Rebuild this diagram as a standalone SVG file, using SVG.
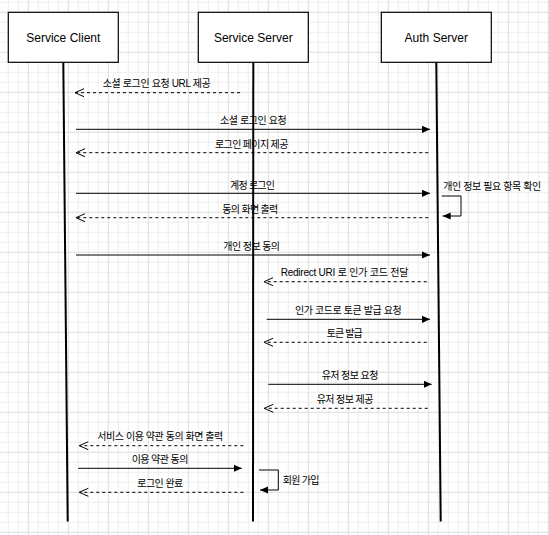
<svg xmlns="http://www.w3.org/2000/svg" width="549" height="535" viewBox="0 0 549 535">
<style>
.box{fill:#fff;stroke:#000;stroke-width:1.2}
.ntext{font-family:"Liberation Sans","Noto Sans CJK KR",Arial,sans-serif;font-size:12px;fill:#000;text-anchor:middle}
.life{stroke:#000;stroke-width:2;fill:none}
.msg{stroke:#000;stroke-width:1;fill:none;marker-end:url(#block)}
.ret{stroke:#000;stroke-width:1;fill:none;stroke-dasharray:3 3;marker-end:url(#open)}
.lbl{font-family:"Liberation Sans","Noto Sans CJK KR",sans-serif;font-size:10px;fill:#000;text-anchor:middle}
.lbl.start{text-anchor:start}
</style>
<defs>
<pattern id="grid" patternUnits="userSpaceOnUse" x="7.8" y="11.8" width="40" height="40">
<rect x="0" y="0" width="40" height="40" fill="#fff"/>
<rect x="0" y="0" width="1" height="40" fill="#ededed"/>
<rect x="10" y="0" width="1" height="40" fill="#ededed"/>
<rect x="30" y="0" width="1" height="40" fill="#ededed"/>
<rect x="0" y="10" width="40" height="1" fill="#ededed"/>
<rect x="0" y="20" width="40" height="1" fill="#ededed"/>
<rect x="0" y="30" width="40" height="1" fill="#ededed"/>
<rect x="20" y="0" width="1" height="40" fill="#dcdcdc"/>
<rect x="0" y="0" width="40" height="1" fill="#dcdcdc"/>
</pattern>
<marker id="block" markerUnits="userSpaceOnUse" markerWidth="10" markerHeight="10" refX="8" refY="4" orient="auto">
<path d="M0,0.4 L8,4 L0,7.6 z" fill="#000" stroke="none"/>
</marker>
<marker id="open" markerUnits="userSpaceOnUse" markerWidth="12" markerHeight="10" refX="9.5" refY="4.5" orient="auto">
<path d="M0.5,0.5 L9.5,4.5 L0.5,8.5" fill="none" stroke="#000" stroke-width="1" stroke-dasharray="none"/>
</marker>
</defs>
<rect x="0" y="0" width="549" height="535" fill="url(#grid)"/>

<g id="lifelines">
<line class="life" x1="63.3" y1="62.3" x2="67.7" y2="521.5"/>
<line class="life" x1="253.3" y1="62.3" x2="253" y2="521.5"/>
<line class="life" x1="436.3" y1="62.3" x2="440.7" y2="521.5"/>
</g>

<g id="service-client">
<rect class="box" x="8.3" y="12.3" width="110" height="50"/>
<text class="ntext" x="63.3" y="41.5">Service Client</text>
</g>
<g id="service-server">
<rect class="box" x="198.3" y="12.3" width="110" height="50"/>
<text class="ntext" x="253.3" y="41.5">Service Server</text>
</g>
<g id="auth-server">
<rect class="box" x="381.3" y="12.3" width="110" height="50"/>
<text class="ntext" x="436.3" y="41.5">Auth Server</text>
</g>

<g id="connectors">
<line class="ret" x1="240" y1="92.7" x2="75" y2="92.7"/>
<line class="msg" x1="76" y1="129.3" x2="430" y2="129.3"/>
<line class="ret" x1="428.3" y1="152.7" x2="76" y2="152.7"/>
<line class="msg" x1="76" y1="193.3" x2="430" y2="193.3"/>
<line class="ret" x1="428.3" y1="217.7" x2="76" y2="217.7"/>
<path class="msg" d="M441.7,196 H461 V216 H442.7"/>
<line class="msg" x1="76" y1="255" x2="430" y2="255"/>
<line class="ret" x1="426.7" y1="281.7" x2="264" y2="281.7"/>
<line class="msg" x1="266.7" y1="319.3" x2="430" y2="319.3"/>
<line class="ret" x1="426.7" y1="342.3" x2="264" y2="342.3"/>
<line class="msg" x1="268.3" y1="384.3" x2="431.7" y2="384.3"/>
<line class="ret" x1="427.7" y1="408.3" x2="264.3" y2="408.3"/>
<line class="ret" x1="243.3" y1="445.7" x2="79.3" y2="445.7"/>
<line class="msg" x1="78.3" y1="468.3" x2="241.7" y2="468.3"/>
<path class="msg" d="M259,470 H278.3 V490 H260"/>
<line class="ret" x1="243.3" y1="492.3" x2="79.3" y2="492.3"/>
</g>

<g id="labels">
<text class="lbl" x="156.7" y="87.2" textLength="108" lengthAdjust="spacing">소셜 로그인 요청 URL 제공</text>
<text class="lbl" x="253.3" y="124.2" textLength="66.7" lengthAdjust="spacing">소셜 로그인 요청</text>
<text class="lbl" x="251.7" y="147.8" textLength="73.3" lengthAdjust="spacing">로그인 페이지 제공</text>
<text class="lbl" x="252.5" y="188.5" textLength="45" lengthAdjust="spacing">계정 로그인</text>
<text class="lbl" x="250.3" y="212.5" textLength="56" lengthAdjust="spacing">동의 화면 출력</text>
<text class="lbl start" x="443.3" y="190.2" textLength="98" lengthAdjust="spacing">개인 정보 필요 항목 확인</text>
<text class="lbl" x="251.7" y="249.5" textLength="56.7" lengthAdjust="spacing">개인 정보 동의</text>
<text class="lbl" x="344.5" y="276.2" textLength="127.7" lengthAdjust="spacing">Redirect URI 로 인가 코드 전달</text>
<text class="lbl" x="348.3" y="313.8" textLength="106.7" lengthAdjust="spacing">인가 코드로 토큰 발급 요청</text>
<text class="lbl" x="344.7" y="336.8" textLength="36" lengthAdjust="spacing">토큰 발급</text>
<text class="lbl" x="350" y="378.8" textLength="56.7" lengthAdjust="spacing">유저 정보 요청</text>
<text class="lbl" x="345" y="402.8" textLength="56.7" lengthAdjust="spacing">유저 정보 제공</text>
<text class="lbl" x="160.3" y="440.2" textLength="126" lengthAdjust="spacing">서비스 이용 약관 동의 화면 출력</text>
<text class="lbl" x="160" y="462.5" textLength="56.7" lengthAdjust="spacing">이용 약관 동의</text>
<text class="lbl start" x="282.7" y="484.2" textLength="36.7" lengthAdjust="spacing">회원 가입</text>
<text class="lbl" x="160.3" y="486.8" textLength="46" lengthAdjust="spacing">로그인 완료</text>
</g>
</svg>
